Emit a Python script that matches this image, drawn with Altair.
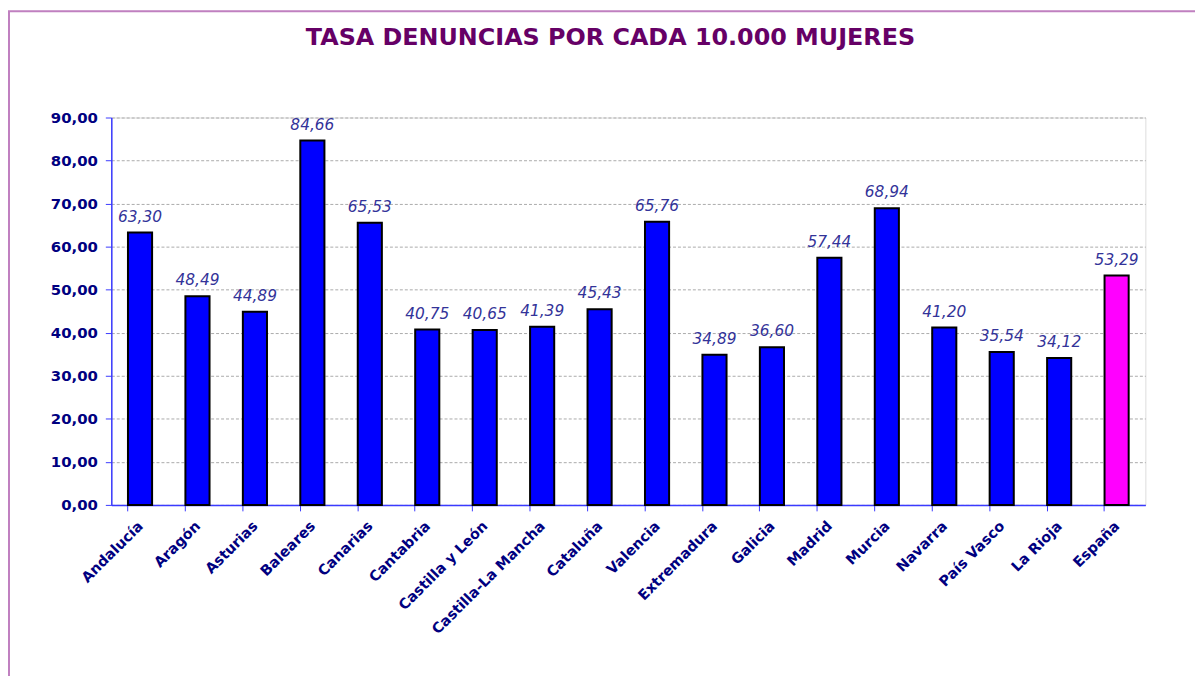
import altair as alt
import pandas as pd

regiones = ["Andalucía", "Aragón", "Asturias", "Baleares", "Canarias", "Cantabria",
            "Castilla y León", "Castilla-La Mancha", "Cataluña", "Valencia", "Extremadura",
            "Galicia", "Madrid", "Murcia", "Navarra", "País Vasco", "La Rioja", "España"]
tasas = [63.30, 48.49, 44.89, 84.66, 65.53, 40.75, 40.65, 41.39, 45.43, 65.76,
         34.89, 36.60, 57.44, 68.94, 41.20, 35.54, 34.12, 53.29]
tipos = ["Comunidad"] * 17 + ["Total"]

df = pd.DataFrame({"region": regiones, "tasa": tasas, "tipo": tipos})

FONT = "DejaVu Sans"
W, H = 1041, 390

x = alt.X("region:N", sort=regiones, title=None,
          scale=alt.Scale(paddingInner=0.58, paddingOuter=0.29),
          axis=alt.Axis(labelAngle=-45, labelFont=FONT, labelFontSize=14.5,
                        labelFontWeight="bold", labelColor="#000080",
                        labelPadding=8, labelOffset=-4, tickSize=6, tickColor="#3a3aff",
                        domainColor="#3a3aff", domainWidth=1.5, bandPosition=0,
                        grid=False))
y = alt.Y("tasa:Q", title=None,
          scale=alt.Scale(domain=[0, 90], nice=False),
          axis=alt.Axis(values=list(range(0, 91, 10)), labelFont=FONT, labelFontSize=15,
                        labelFontWeight="bold", labelColor="#000080", labelPadding=8,
                        labelExpr="replace(format(datum.value, '.2f'), '.', ',')",
                        tickSize=6, tickColor="#3a3aff", domainColor="#3a3aff",
                        domainWidth=1.5, grid=True, gridColor="#aaaaaa",
                        gridDash=[3, 2], gridWidth=1))

base = alt.Chart(df)
bars = base.mark_bar(stroke="black", strokeWidth=2).encode(
    x=x, y=y,
    color=alt.Color("tipo:N", scale=alt.Scale(domain=["Comunidad", "Total"],
                                               range=["#0000ff", "#ff00ff"]),
                    legend=None),
)
labels = base.transform_calculate(
    etiqueta="replace(format(datum.tasa, '.2f'), '.', ',')"
).mark_text(font=FONT, fontSize=15.5, fontStyle="italic", color="#333399",
            baseline="bottom", dy=-8).encode(
    x=alt.X("region:N", sort=regiones), y="tasa:Q", text="etiqueta:N")

frame = alt.Chart(pd.DataFrame({"k": [0]})).mark_rect(
    fill=None, stroke="#c080c0", strokeWidth=2, clip=False
).encode(x=alt.value(-103), x2=alt.value(1200), y=alt.value(-107), y2=alt.value(800))

chart = alt.layer(frame, bars, labels).properties(
    width=W, height=H,
    autosize=alt.AutoSizeParams(type="none"),
    padding={"left": 104, "top": 108, "right": 50, "bottom": 170},
    title=alt.TitleParams("TASA DENUNCIAS POR CADA 10.000 MUJERES", font=FONT,
                          fontSize=24, fontWeight="bold", color="#660066",
                          anchor="middle", dx=-18, offset=0, dy=40),
).configure_view(stroke="#6a6ab8", strokeWidth=1.5).configure(background="white")

chart.save("out.html", embed_options={"renderer": "svg", "actions": False})
